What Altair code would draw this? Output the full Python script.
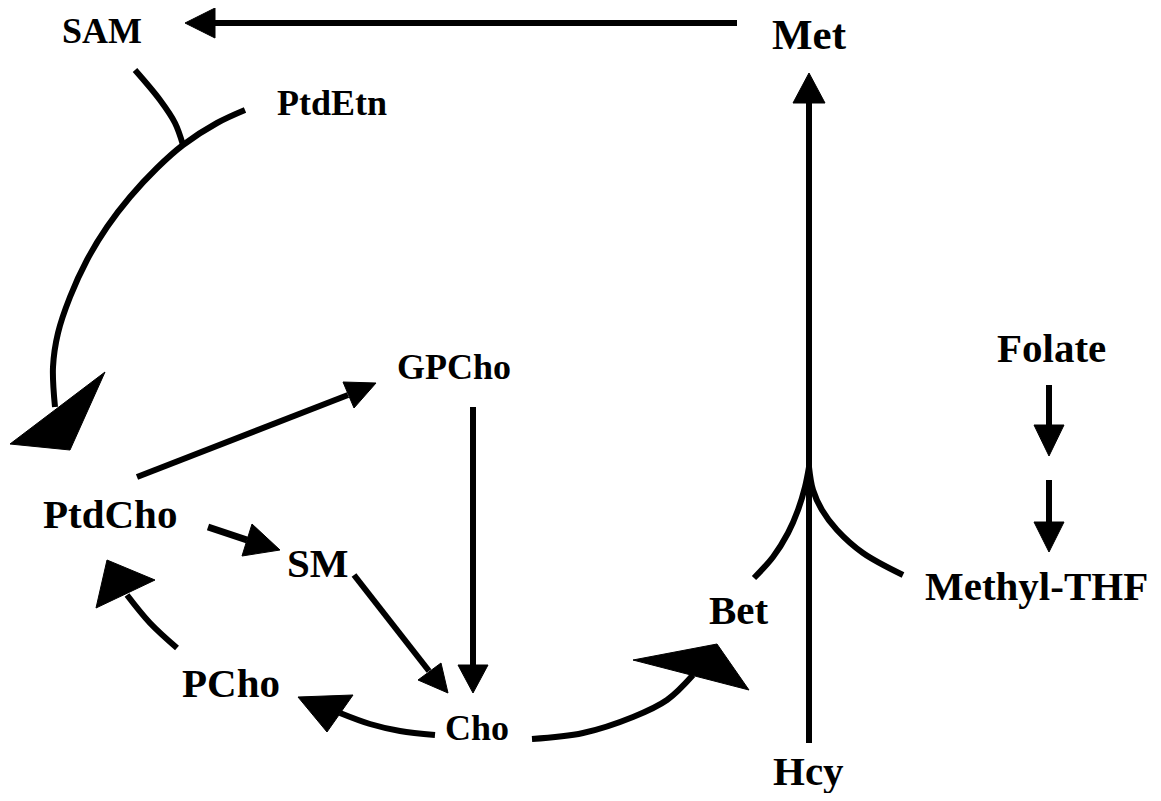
import altair as alt
import pandas as pd

# ---- node labels (left edge x, baseline y, font size) ----
label_text = ["SAM", "Met", "PtdEtn", "GPCho", "PtdCho", "SM", "PCho", "Cho",
              "Bet", "Hcy", "Folate", "Methyl-THF"]
label_x = [62, 772, 277, 397, 43, 287, 182, 445, 709, 773, 997, 925]
label_y = [43, 49, 115, 379, 528, 577, 697, 740, 624, 785, 362, 600]
label_size = [36, 43, 36, 36, 41, 41, 41, 36, 41, 41, 41, 41]

# ---- connecting strokes (point lists) ----
edge_names = ["met_sam", "hcy_met", "gpcho_cho", "ptdcho_gpcho", "ptdcho_sm",
              "sm_cho", "folate1", "folate2", "ptdetn_ptdcho", "sam_branch",
              "cho_pcho", "pcho_ptdcho", "cho_bet", "bet_fork", "thf_fork"]
edge_x = [
    [737, 215],
    [809, 809],
    [473, 473],
    [137, 348],
    [208, 247],
    [354, 429],
    [1049, 1049],
    [1049, 1049],
    [245, 217, 183, 157, 130, 107, 87, 70, 58, 53, 55],
    [135, 160, 175, 183],
    [435, 400, 370, 340],
    [177, 150, 127],
    [532, 583, 633, 667, 693],
    [754, 773, 788, 798, 805, 809],
    [809, 813, 822, 837, 863, 903],
]
edge_y = [
    [23, 23],
    [743, 103],
    [407, 665],
    [477, 395],
    [527, 540],
    [575, 671],
    [385, 425],
    [480, 522],
    [110, 123, 145, 168, 197, 227, 260, 297, 333, 367, 407],
    [70, 100, 123, 145],
    [735, 731, 724, 713],
    [648, 623, 595],
    [739, 733, 717, 700, 675],
    [578, 557, 533, 510, 487, 467],
    [467, 490, 510, 530, 553, 575],
]
edge_width = [6, 6, 6, 6, 7, 6, 6, 6, 6, 6, 6, 6, 6, 6, 6]

# ---- arrow heads (triangle vertices) ----
head_names = ["h_sam", "h_met", "h_cho", "h_gpcho", "h_sm", "h_cho2", "h_fol1",
              "h_fol2", "h_ptdcho", "h_pcho", "h_ptdcho2", "h_bet"]
head_x = [
    [185, 215, 215],
    [809, 793, 825],
    [473, 458, 488],
    [376, 343, 354],
    [280, 252, 242],
    [448, 418, 441],
    [1049, 1034, 1064],
    [1049, 1034, 1064],
    [10, 105, 70],
    [298, 353, 327],
    [107, 155, 96],
    [749, 633, 717],
]
head_y = [
    [23, 8, 38],
    [73, 103, 103],
    [693, 665, 665],
    [383, 382, 408],
    [550, 524, 556],
    [693, 680, 663],
    [456, 425, 425],
    [552, 522, 522],
    [444, 372, 450],
    [697, 695, 732],
    [560, 580, 608],
    [690, 660, 644],
]

# ---- tables ----
rows = []
for name, xs, ys, w in zip(edge_names, edge_x, edge_y, edge_width):
    for i, (px, py) in enumerate(zip(xs, ys)):
        rows.append({"edge": name, "i": i, "x": px, "y": py, "w": w})
edges_df = pd.DataFrame(rows)

hrows = []
for name, xs, ys in zip(head_names, head_x, head_y):
    pts = list(zip(xs, ys)) + [(xs[0], ys[0])]
    for i, (px, py) in enumerate(pts):
        hrows.append({"head": name, "i": i, "x": px, "y": py})
heads_df = pd.DataFrame(hrows)

labels_df = pd.DataFrame({"t": label_text, "x": label_x, "y": label_y, "s": label_size})

X = alt.X("x:Q", scale=alt.Scale(domain=[8, 1153], nice=False, zero=False), axis=None)
Y = alt.Y("y:Q", scale=alt.Scale(domain=[8, 793], nice=False, zero=False, reverse=True), axis=None)

strokes = alt.Chart(edges_df).mark_line(
    interpolate="catmull-rom", color="black", strokeCap="butt", strokeJoin="round"
).encode(
    x=X, y=Y,
    detail="edge:N",
    order="i:Q",
    strokeWidth=alt.StrokeWidth("w:Q", scale=None, legend=None),
)

heads = alt.Chart(heads_df).mark_line(
    color="black", fill="black", strokeWidth=1, strokeJoin="miter"
).encode(
    x=X, y=Y,
    detail="head:N",
    order="i:Q",
)

labels = alt.Chart(labels_df).mark_text(
    align="left", baseline="alphabetic", font="Liberation Serif",
    fontWeight="bold", color="black"
).encode(
    x=X, y=Y,
    text="t:N",
    size=alt.Size("s:Q", scale=None, legend=None),
)

chart = alt.layer(strokes, heads, labels).properties(
    width=1145, height=785, padding=0, autosize="none", background="white"
).configure_view(stroke=None)

chart.save("out.html", embed_options={"renderer": "svg", "actions": False})
